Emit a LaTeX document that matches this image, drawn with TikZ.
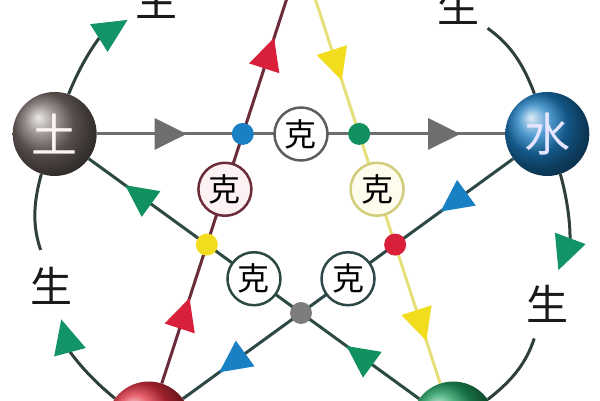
\documentclass[tikz,border=0pt]{standalone}
\usepackage{fontspec}
\setmainfont{Noto Sans CJK SC}
\usetikzlibrary{arrows.meta,decorations.markings,backgrounds}

\definecolor{lineDark}{HTML}{2E3F3C}
\definecolor{shengGreen}{HTML}{12936A}
\definecolor{keGray}{HTML}{6E6E6E}
\definecolor{fireLine}{HTML}{6B2D3A}
\definecolor{fireRed}{HTML}{D9203A}
\definecolor{metalLine}{HTML}{E6E07A}
\definecolor{metalYellow}{HTML}{F2DC1E}
\definecolor{waterLine}{HTML}{2E4848}
\definecolor{waterBlue}{HTML}{1A80C4}
\definecolor{woodLine}{HTML}{2C4A42}
\definecolor{woodGreen}{HTML}{11915F}
\definecolor{earthBall}{HTML}{7A6E6A}
\definecolor{waterBall}{HTML}{1B7DC2}
\definecolor{fireBall}{HTML}{E03040}
\definecolor{woodBall}{HTML}{20A060}

\begin{document}
\begin{tikzpicture}[x=1pt, y=1pt,
    ball/.style={circle, minimum size=84pt, inner sep=0pt, shade, ball color=#1,
        font=\fontsize{46}{46}\selectfont},
    hidden/.style={circle, minimum size=84pt, inner sep=0pt},
    dot/.style={circle, minimum size=22pt, inner sep=0pt, fill=#1},
    kebox/.style 2 args={circle, draw=#1, fill=#2, line width=2.5pt, minimum size=53pt,
        inner sep=0pt, text=black, font=\fontsize{32}{32}\selectfont},
    sheng/.style={circle, inner sep=0pt, text=black!90, font=\fontsize{42}{42}\selectfont},
    shengline/.style={line width=3pt, draw=lineDark},
    bigarrow/.style={-{Triangle[length=34pt, width=32pt, color=shengGreen]}, shorten >=7pt},
    keline/.style 2 args={line width=3pt, draw=#1, postaction={decorate},
        decoration={markings,
            mark=at position 0.22 with {\arrow{Triangle[length=32pt, width=31pt, color=#2]}},
            mark=at position 0.89 with {\arrow{Triangle[length=32pt, width=31pt, color=#2]}}}},
]
    \useasboundingbox (-301,-186) rectangle (299,214);

    %States
    \node[ball=earthBall, text=white!92!brown] (tu) at (162:259) {土};
    \node[ball=waterBall, text=white!90!blue] (shui) at (18:259) {水};
    \node[ball=fireBall] (huo) at (234:259) {};
    \node[ball=woodBall] (mu) at (306:259) {};
    \node[hidden] (jin) at (90:259) {};

    %Crossings
    \node[dot=waterBlue] (d1) at (126:99) {};
    \node[dot=woodGreen] (d2) at (54:99) {};
    \node[dot=metalYellow] (d3) at (198:99) {};
    \node[dot=fireRed] (d4) at (342:99) {};
    \node[dot=keGray!90] (d5) at (270:99) {};

    %Ke circles
    \node[kebox={keGray!85!black}{white}] (k1) at (90:80) {克};
    \node[kebox={fireLine}{fireRed!6}] (k2) at (162:80) {克};
    \node[kebox={metalLine!80!gray}{metalYellow!8}] (k3) at (18:80) {克};
    \node[kebox={woodLine}{white}] (k4) at (234:80) {克};
    \node[kebox={waterLine}{white}] (k5) at (306:80) {克};

    %Labels
    \node[sheng] (s1) at (124:258) {生};
    \node[sheng] (s2) at (53:261) {生};
    \node[sheng] (s3) at (340:262) {生};
    \node[sheng] (s4) at (196:260) {生};

    \begin{scope}[on background layer]
        \fill[white] (-301,-186) rectangle (299,214);

        %Edges
            %Ke lines through the crossings
        \draw[keline={keGray}{keGray}] (tu) -- (shui);
        \draw[keline={fireLine}{fireRed}] (huo) -- (jin);
        \draw[keline={metalLine}{metalYellow}] (jin) -- (mu);
        \draw[keline={waterLine}{waterBlue}] (shui) -- (huo);
        \draw[keline={woodLine}{woodGreen}] (mu) -- (tu);

            %Sheng arcs on the outer ring
        \draw[shengline, bigarrow] (tu) to[bend left=18] (s1);
        \draw[shengline, shorten <=9pt] (s2) to[bend left=17] (shui);
        \draw[shengline, bigarrow] (shui) to[bend left=18] (s3);
        \draw[shengline, shorten <=9pt] (s3) to[bend left=17] (mu);
        \draw[shengline, bigarrow] (huo) to[bend left=18] (s4);
        \draw[shengline, shorten <=9pt] (s4) to[bend left=17] (tu);
    \end{scope}
\end{tikzpicture}
\end{document}
